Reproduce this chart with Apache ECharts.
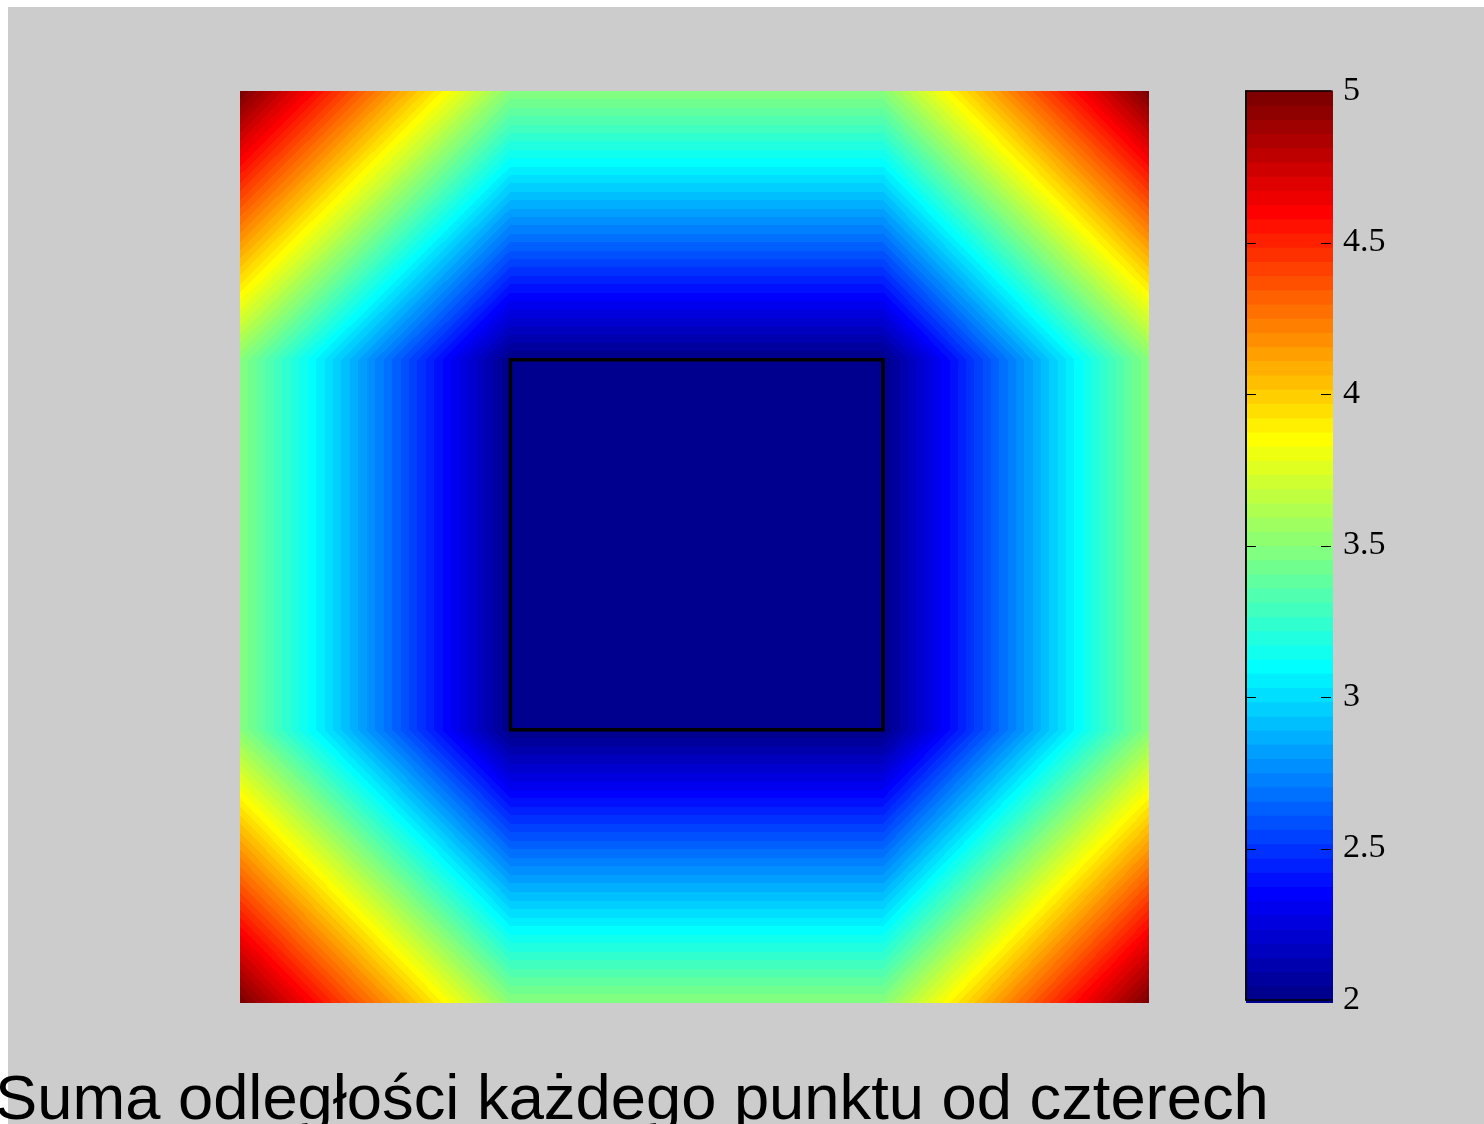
<!DOCTYPE html>
<html>
<head>
<meta charset="utf-8">
<title>Suma odległości</title>
<script src="https://cdn.jsdelivr.net/npm/echarts@6/dist/echarts.min.js"></script>
<style>
  html, body { margin: 0; padding: 0; background: #ffffff; }
  #chart { width: 1484px; height: 1124px; }
</style>
</head>
<body>
<div id="chart"></div>
<script>
// Grid nodes of the surface: the plot limits and the corners of the square
const xNodes = [-0.613, -0.25, 0.25, 0.607];
const yNodes = [-0.619, -0.25, 0.25, 0.613];
// Surface values at the nodes (rows follow yNodes, columns follow xNodes)
const nodeValues = [
  [5.0, 3.5, 3.5, 5.0],
  [3.5, 2.0, 2.0, 3.5],
  [3.5, 2.0, 2.0, 3.5],
  [5.0, 3.5, 3.5, 5.0]
];
// The four points (corners of the square)
const squareX = [-0.25, 0.25, 0.25, -0.25];
const squareY = [-0.25, -0.25, 0.25, 0.25];
// Colour scale
const colorbarTicks = [2, 2.5, 3, 3.5, 4, 4.5, 5];
const nColors = 64;
const titleText = 'Suma odległości każdego punktu od czterech';

const cmin = colorbarTicks[0];
const cmax = colorbarTicks[colorbarTicks.length - 1];
const step = (cmax - cmin) / nColors;

// 64-level jet palette
function jet(i) { // i = 1..64
  const r = i <= 24 ? 0 : i <= 40 ? (i - 24) / 16 : i <= 55 ? 1 : (72 - i) / 16;
  const g = i <= 8 ? 0 : i <= 24 ? (i - 8) / 16 : i <= 39 ? 1 : i <= 55 ? (56 - i) / 16 : 0;
  const b = i <= 8 ? (i + 8) / 16 : i <= 23 ? 1 : i <= 39 ? (40 - i) / 16 : 0;
  const c = v => Math.round(v * 255);
  return 'rgb(' + c(r) + ',' + c(g) + ',' + c(b) + ')';
}
const palette = [];
for (let i = 1; i <= nColors; i++) palette.push(jet(i));

function bandOf(v) {
  return Math.max(0, Math.min(nColors - 1, Math.floor((v - cmin) / step)));
}

// Hard-edged gradient stops for a value range
function bandStops(vmin, vmax) {
  const stops = [];
  const span = vmax - vmin;
  for (let k = 0; k < nColors; k++) {
    const lo = cmin + k * step, hi = lo + step;
    const a = Math.max(lo, vmin), b = Math.min(hi, vmax);
    if (b <= a) continue;
    stops.push({ offset: (a - vmin) / span, color: palette[k] });
    stops.push({ offset: (b - vmin) / span, color: palette[k] });
  }
  return stops;
}

// Planar patches between neighbouring nodes
const cells = [];
for (let j = 0; j < yNodes.length - 1; j++) {
  for (let i = 0; i < xNodes.length - 1; i++) {
    cells.push([
      xNodes[i], xNodes[i + 1], yNodes[j], yNodes[j + 1],
      nodeValues[j][i], nodeValues[j][i + 1], nodeValues[j + 1][i], nodeValues[j + 1][i + 1]
    ]);
  }
}

// Colour bar bands
const bands = [];
for (let k = 0; k < nColors; k++) bands.push([cmin + k * step, cmin + (k + 1) * step, k]);

const square = [];
for (let i = 0; i <= squareX.length; i++) {
  const n = i % squareX.length;
  square.push([squareX[n], squareY[n]]);
}

const chart = echarts.init(document.getElementById('chart'), null, { renderer: 'canvas' });

function renderPatch(params, api) {
  const x0 = api.value(0), x1 = api.value(1), y0 = api.value(2), y1 = api.value(3);
  const v00 = api.value(4), v10 = api.value(5), v01 = api.value(6), v11 = api.value(7);
  const p00 = api.coord([x0, y0]);
  const p11 = api.coord([x1, y1]);
  const w = p11[0] - p00[0], h = p11[1] - p00[1];
  const gx = (v10 - v00) / w, gy = (v01 - v00) / h;
  const g2 = gx * gx + gy * gy;
  const vmin = Math.min(v00, v10, v01, v11), vmax = Math.max(v00, v10, v01, v11);
  let fill;
  if (g2 === 0 || vmax === vmin) {
    fill = palette[bandOf(v00)];
  } else {
    const sx = p00[0] + gx * (vmin - v00) / g2, sy = p00[1] + gy * (vmin - v00) / g2;
    const ex = p00[0] + gx * (vmax - v00) / g2, ey = p00[1] + gy * (vmax - v00) / g2;
    fill = new echarts.graphic.LinearGradient(sx, sy, ex, ey, bandStops(vmin, vmax), true);
  }
  return {
    type: 'rect',
    shape: {
      x: Math.min(p00[0], p11[0]) - 0.5,
      y: Math.min(p00[1], p11[1]) - 0.5,
      width: Math.abs(w) + 1,
      height: Math.abs(h) + 1
    },
    style: { fill: fill, stroke: null }
  };
}

function renderBand(params, api) {
  const lo = api.value(0), hi = api.value(1), k = api.value(2);
  const a = api.coord([0, lo]);
  const b = api.coord([1, hi]);
  const extra = k === 0 ? 3 : 0.5;
  return {
    type: 'rect',
    shape: { x: a[0], y: b[1] - 0.5, width: b[0] - a[0] + 2, height: a[1] - b[1] + extra + 0.5 },
    style: { fill: palette[k], stroke: null }
  };
}

// Short inward tick marks on both sides of the colour bar
function renderTick(params, api) {
  const v = api.value(0);
  const l = api.coord([0, v]);
  const r = api.coord([1, v]);
  const y = Math.round(l[1]) + 0.5;
  return {
    type: 'group',
    children: [
      { type: 'line', shape: { x1: l[0], y1: y, x2: l[0] + 10, y2: y },
        style: { stroke: '#000', lineWidth: 1 } },
      { type: 'line', shape: { x1: r[0] - 10, y1: y, x2: r[0], y2: y },
        style: { stroke: '#000', lineWidth: 1 } }
    ]
  };
}

const boxAxis = {
  axisLine: { show: true, lineStyle: { color: '#000', width: 1.5 } },
  axisTick: { show: false },
  axisLabel: { show: false },
  splitLine: { show: false },
  z: 10
};

chart.setOption({
  animation: false,
  backgroundColor: '#ffffff',
  graphic: [
    { type: 'rect', z: -100, silent: true,
      shape: { x: 8, y: 7, width: 1476, height: 1117 },
      style: { fill: '#cccccc' } },
    { type: 'text', z: 100, silent: true,
      style: {
        x: -5, y: 1102, text: titleText,
        font: '63.3px "Liberation Sans", Arial, sans-serif',
        fill: '#000', align: 'left', verticalAlign: 'middle'
      } }
  ],
  grid: [
    { left: 240, top: 91, width: 909, height: 912 },
    { left: 1246, top: 91, width: 85, height: 909 }
  ],
  xAxis: [
    { gridIndex: 0, type: 'value', min: xNodes[0], max: xNodes[xNodes.length - 1], show: false },
    Object.assign({ gridIndex: 1, type: 'value', min: 0, max: 1, position: 'bottom' }, boxAxis),
    Object.assign({ gridIndex: 1, type: 'value', min: 0, max: 1, position: 'top' }, boxAxis)
  ],
  yAxis: [
    { gridIndex: 0, type: 'value', min: yNodes[0], max: yNodes[yNodes.length - 1], show: false },
    {
      gridIndex: 1, type: 'value', position: 'right',
      min: cmin, max: cmax, interval: 0.5,
      axisLine: { show: true, lineStyle: { color: '#000', width: 1.5 } },
      axisTick: { show: false },
      axisLabel: {
        show: true, margin: 12, color: '#000',
        fontFamily: '"Liberation Serif", "Times New Roman", serif', fontSize: 34,
        showMinLabel: true, showMaxLabel: true
      },
      splitLine: { show: false },
      z: 10
    },
    {
      gridIndex: 1, type: 'value', position: 'left',
      min: cmin, max: cmax, interval: 0.5,
      axisLine: { show: true, lineStyle: { color: '#000', width: 1.5 } },
      axisTick: { show: false },
      axisLabel: { show: false },
      splitLine: { show: false },
      z: 10
    }
  ],
  series: [
    {
      type: 'custom', name: 'surface',
      xAxisIndex: 0, yAxisIndex: 0,
      renderItem: renderPatch,
      encode: { x: [0, 1], y: [2, 3] },
      data: cells,
      clip: true,
      silent: true,
      z: 1
    },
    {
      type: 'line', name: 'square',
      xAxisIndex: 0, yAxisIndex: 0,
      data: square,
      symbol: 'none',
      lineStyle: { color: '#000', width: 3.5, join: 'miter', cap: 'square' },
      silent: true,
      z: 5
    },
    {
      type: 'custom', name: 'colorbar',
      xAxisIndex: 1, yAxisIndex: 1,
      renderItem: renderBand,
      encode: { x: 2, y: [0, 1] },
      data: bands,
      silent: true,
      z: 1
    },
    {
      type: 'custom', name: 'colorbarTicks',
      xAxisIndex: 1, yAxisIndex: 1,
      renderItem: renderTick,
      encode: { y: 0 },
      data: colorbarTicks.slice(1, -1).map(v => [v]),
      silent: true,
      z: 6
    }
  ]
});
</script>
</body>
</html>
